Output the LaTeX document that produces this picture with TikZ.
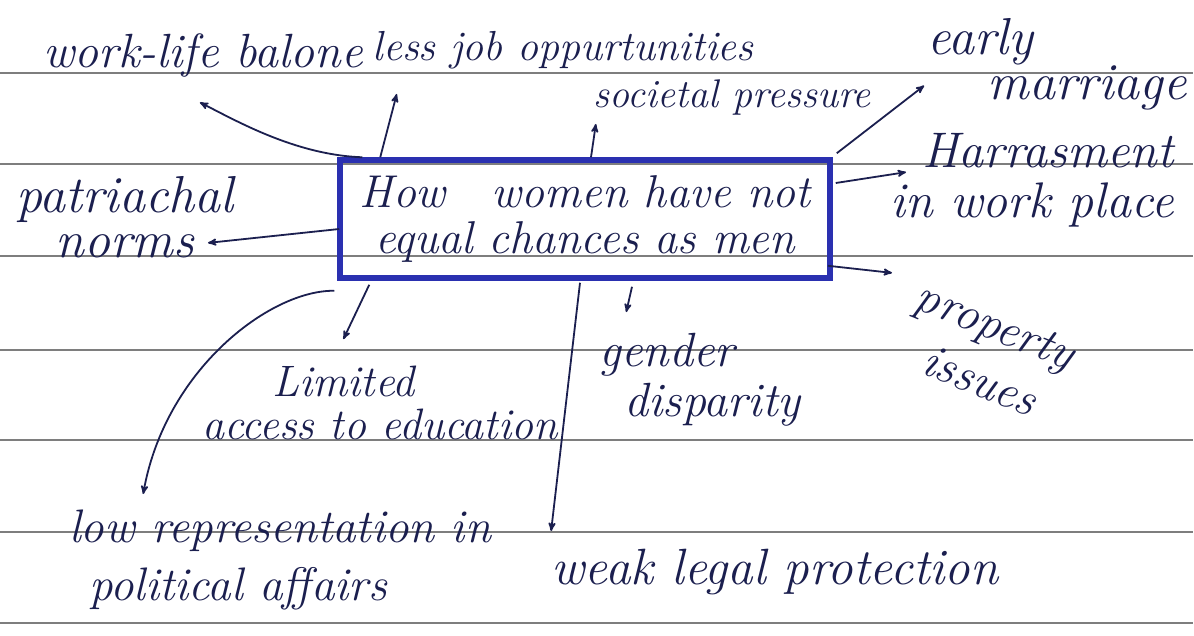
\documentclass[tikz,border=0pt]{standalone}
\usepackage{tikz}
\usetikzlibrary{arrows}
\usetikzlibrary{positioning}
\definecolor{ink}{HTML}{1B1F4F}
\definecolor{penblue}{HTML}{2A30B0}
\definecolor{rule}{HTML}{7E7E7E}

\begin{document}
\begin{tikzpicture}[x=1pt,y=-1pt,->,>=stealth',shorten >=1pt,
    line width=1.8pt,color=ink,
    idea node/.style 2 args={font=\fontsize{#1}{#2}\selectfont\itshape,text=ink,inner sep=0pt},
    hub node/.style={draw=penblue,line width=5.5pt,minimum width=490pt,minimum height=118pt,
      font=\fontsize{46}{46}\selectfont\itshape,text=ink,align=center,inner sep=0pt},
    ruled line/.style={-,draw=rule,line width=1.8pt}]

  \useasboundingbox[fill=white] (0,0) rectangle (1194,635);
  % ruled paper
  \foreach \y in {73,164,256,350,440,532,623}
    \draw[ruled line] (0,\y) -- (1194,\y);

  \node[hub node] (box) at (585,219) {How\quad women have not\\equal chances as men};

  \node[idea node={48}{46}] (worklife) at (203,55) {work-life balone};
  \node[idea node={42}{46}] (lessjob) at (563,50) {less job oppurtunities};
  \node[idea node={40}{46}] (societal) at (732,97) {societal pressure};
  \node[idea node={52}{40},align=left] (marriage) at (1057,64) {early\\\hspace*{60pt}marriage};
  \node[idea node={50}{50},align=right] (harass) at (1032,180) {Harrasment\\in work place};
  \node[idea node={52}{45},align=center] (patriarchal) at (125,217) {patriachal\\norms};
  \node[idea node={48}{58},align=left,rotate=-22] (property) at (985,352) {property\\\hspace*{30pt}issues};
  \node[idea node={44}{43},align=left] (education) at (380,403) {\hspace*{70pt}Limited\\access to education};
  \node[idea node={48}{50},align=left] (disparity) at (700,380) {gender\\\hspace*{25pt}disparity};
  \node[idea node={47}{58},align=left] (politics) at (280,560) {low representation in\\\hspace*{20pt}political affairs};
  \node[idea node={51}{46}] (legal) at (775,572) {weak legal protection};

  \draw ([xshift=25pt]box.north west) .. controls (295,155) and (235,120) ..
    ([xshift=-4pt,yshift=-47pt]worklife.center);
  \draw ([xshift=-3pt,yshift=-10pt]box.south west) .. controls (270,290) and (165,370) ..
    ([xshift=-137pt,yshift=65pt]politics.center);

  \path
    ([xshift=43pt]box.north west) edge ([xshift=-166pt,yshift=-43pt]lessjob.center)
    ([xshift=6pt]box.north) edge ([xshift=-136pt,yshift=-26pt]societal.center)
    ([xshift=4pt,yshift=4pt]box.north east) edge ([xshift=-132pt,yshift=-21pt]marriage.center)
    ([xshift=3pt,yshift=36pt]box.east) edge ([xshift=-125pt,yshift=8pt]harass.center)
    ([xshift=-5pt,yshift=15pt]box.south east) edge ([xshift=-92pt,yshift=79pt]property.center)
    ([xshift=47pt,yshift=-6pt]box.south) edge ([xshift=-74pt,yshift=67pt]disparity.center)
    ([xshift=-5pt,yshift=-2pt]box.south) edge ([xshift=-224pt,yshift=40pt]legal.center)
    ([xshift=32pt,yshift=-4pt]box.south west) edge ([xshift=-37pt,yshift=63pt]education.center)
    ([xshift=2pt,yshift=-10pt]box.west) edge ([xshift=82pt,yshift=-26pt]patriarchal.center);
\end{tikzpicture}
\end{document}
